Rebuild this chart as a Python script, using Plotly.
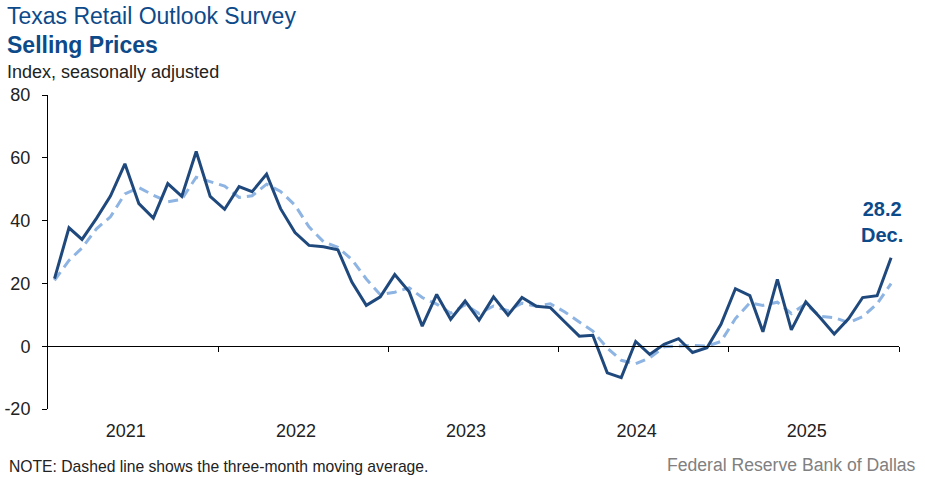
import plotly.graph_objects as go
import pandas as pd

# Monthly observations, Jan 2021 - Dec 2025
months = pd.date_range("2021-01-01", "2025-12-01", freq="MS") + pd.Timedelta(days=14)

selling_prices = [21.5, 37.7, 34.0, 40.7, 47.8, 58.1, 45.4, 40.8, 51.8, 47.7, 62.0, 47.7,
                  43.6, 50.8, 49.2, 54.8, 43.8, 36.2, 32.1, 31.7, 30.7, 20.4, 13.0, 15.7,
                  22.8, 17.3, 6.4, 16.5, 8.6, 14.4, 8.3, 15.7, 9.9, 15.5, 12.7, 12.3,
                  7.7, 3.2, 3.5, -8.5, -10.0, 1.5, -2.6, 0.6, 2.4, -2.0, -0.5, 7.0,
                  18.3, 16.1, 4.6, 21.3, 5.2, 14.1, 9.2, 3.9, 8.8, 15.5, 16.1, 28.2]

moving_avg = [21.0, 27.3, 31.3, 37.4, 41.2, 48.5, 50.5, 48.1, 46.0, 46.8, 53.8, 52.4,
              51.0, 47.4, 47.9, 51.6, 49.3, 44.9, 38.0, 33.3, 31.5, 27.6, 21.4, 16.4,
              17.2, 18.6, 15.5, 13.4, 10.5, 13.2, 10.4, 12.8, 11.3, 13.7, 12.7, 13.5,
              10.9, 7.7, 4.8, -0.6, -4.5, -5.6, -3.7, -0.2, 0.1, 0.3, 0.0, 1.5,
              8.8, 13.8, 13.0, 14.0, 10.4, 13.5, 9.5, 9.1, 7.5, 9.4, 13.5, 19.9]

years = ["2021", "2022", "2023", "2024", "2025"]
y_ticks = [-20, 0, 20, 40, 60, 80]
y_tick_labels = ["-20", "0", "20", "40", "60", "80"]

FONT = "Liberation Sans, Arial, sans-serif"
NAVY = "#1F497D"
LIGHT = "#8DB4E2"
TITLE_BLUE = "#0D4A8A"

year_label_pos = [pd.Timestamp(f"{y}-06-17") for y in years]
year_bounds = [pd.Timestamp(f"{int(y) + 1}-01-01") for y in years]
x_range = [pd.Timestamp(f"{years[0]}-01-01"), pd.Timestamp(f"{int(years[-1]) + 1}-01-01")]

fig = go.Figure()
fig.add_trace(go.Scatter(x=months, y=moving_avg, mode="lines",
                         line=dict(color=LIGHT, width=3, dash="10px,6px"),
                         showlegend=False, hoverinfo="skip"))
fig.add_trace(go.Scatter(x=months, y=selling_prices, mode="lines",
                         line=dict(color=NAVY, width=3),
                         showlegend=False))
# helper trace so the zero-line axis (with year-boundary ticks) is drawn
fig.add_trace(go.Scatter(x=[months[0]], y=[None], xaxis="x2", mode="lines",
                         showlegend=False, hoverinfo="skip"))

fig.update_layout(
    width=925, height=480,
    margin=dict(l=48, r=26, t=95, b=71),
    paper_bgcolor="white", plot_bgcolor="white",
    font=dict(family=FONT, color="#222222"),
    xaxis=dict(type="date", range=x_range, tickvals=year_label_pos, ticktext=years,
               ticks="outside", ticklen=5, tickcolor="rgba(0,0,0,0)", automargin=False,
               tickfont=dict(size=18, family=FONT, color="#222222"),
               showline=False, showgrid=False, zeroline=False),
    xaxis2=dict(type="date", range=x_range, overlaying="x", anchor="free", position=0.2,
                tickvals=year_bounds, showticklabels=False, ticks="outside", ticklen=5,
                tickcolor="#000000", showline=True, linecolor="#000000", linewidth=1,
                showgrid=False, zeroline=False, automargin=False),
    yaxis=dict(range=[-20, 80], tickvals=y_ticks, ticktext=y_tick_labels,
               ticks="outside", ticklen=5, automargin=False,
               tickcolor="#000000", showline=True, linecolor="#000000", linewidth=1,
               showgrid=False, zeroline=False, ticklabelstandoff=8,
               tickfont=dict(size=18, family=FONT, color="#222222")),
)

ann = [
    dict(text="Texas Retail Outlook Survey", x=-0.051, y=1.252, xanchor="left", yanchor="middle",
         font=dict(size=23, color=TITLE_BLUE)),
    dict(text="<b>Selling Prices</b>", x=-0.051, y=1.159, xanchor="left", yanchor="middle",
         font=dict(size=23, color=TITLE_BLUE)),
    dict(text="Index, seasonally adjusted", x=-0.051, y=1.073, xanchor="left", yanchor="middle",
         font=dict(size=18, color="#222222")),
    dict(text="NOTE: Dashed line shows the three-month moving average.", x=-0.048, y=-0.182,
         xanchor="left", yanchor="middle", font=dict(size=15.7, color="#222222")),
    dict(text="Federal Reserve Bank of Dallas", x=1.022, y=-0.178, xanchor="right",
         yanchor="middle", font=dict(size=17.6, color="#808080")),
]
for a in ann:
    fig.add_annotation(xref="paper", yref="paper", showarrow=False, **a)

fig.add_annotation(x=months[-1], y=selling_prices[-1], xref="x", yref="y",
                   text=f"<b>{selling_prices[-1]:.1f}<br>Dec.</b>", showarrow=False,
                   xanchor="center", yanchor="bottom", xshift=-9, yshift=10,
                   font=dict(size=20, color=TITLE_BLUE), align="center")

fig.write_html("out.html", config={"displayModeBar": False},
               post_script="document.body.style.margin='0px';document.body.style.overflow='hidden';")
